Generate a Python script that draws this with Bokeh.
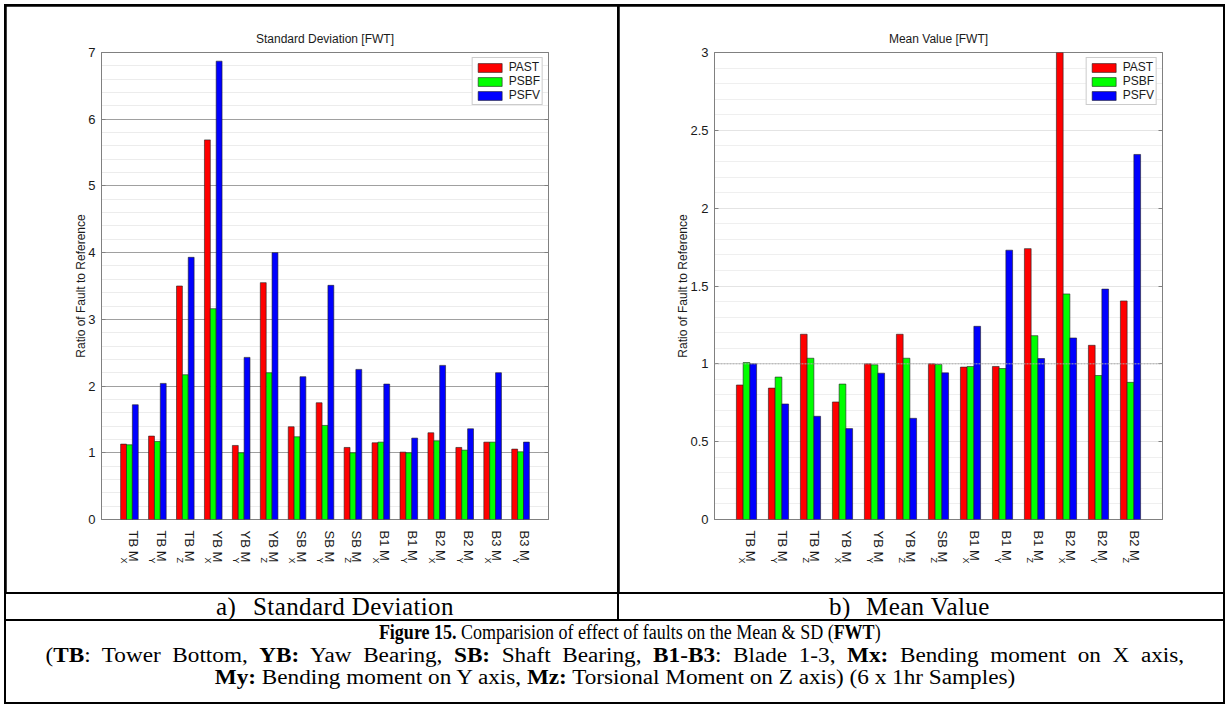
import math

from bokeh.embed import file_html
from bokeh.layouts import column, row
from bokeh.models import (ColumnDataSource, Div, FixedTicker, LinearAxis, NumeralTickFormatter,
                          Range1d, SingleIntervalTicker, Span)
from bokeh.plotting import figure
from bokeh.resources import INLINE
from bokeh.transform import dodge

# ---- data -------------------------------------------------------------------
series_names = ["PAST", "PSBF", "PSFV"]
series_colors = ["#ff0000", "#00ff00", "#0000ff"]

sd_ticks = ["TB Mx", "TB My", "TB Mz", "YB Mx", "YB My", "YB Mz", "SB Mx", "SB My",
            "SB Mz", "B1 Mx", "B1 My", "B2 Mx", "B2 My", "B3 Mx", "B3 My"]
sd_past = [1.13, 1.25, 3.50, 5.69, 1.11, 3.55, 1.39, 1.75, 1.08, 1.15, 1.01, 1.30, 1.08, 1.16, 1.055]
sd_psbf = [1.12, 1.17, 2.17, 3.16, 1.00, 2.20, 1.24, 1.41, 1.00, 1.16, 1.00, 1.18, 1.04, 1.16, 1.015]
sd_psfv = [1.72, 2.04, 3.93, 6.87, 2.43, 4.00, 2.14, 3.51, 2.25, 2.03, 1.22, 2.31, 1.36, 2.20, 1.16]

mean_ticks = ["TB Mx", "TB My", "TB Mz", "YB Mx", "YB My", "YB Mz", "SB Mz", "B1 Mx",
              "B1 My", "B1 Mz", "B2 Mx", "B2 My", "B2 Mz"]
mean_past = [0.864, 0.844, 1.19, 0.755, 1.00, 1.19, 1.00, 0.979, 0.983, 1.74, 3.00, 1.119, 1.404]
mean_psbf = [1.008, 0.915, 1.036, 0.870, 0.994, 1.036, 0.996, 0.983, 0.970, 1.181, 1.449, 0.925, 0.881]
mean_psfv = [1.000, 0.742, 0.663, 0.584, 0.940, 0.650, 0.942, 1.241, 1.730, 1.034, 1.166, 1.480, 2.345]

# ---- styling ----------------------------------------------------------------
SANS = "Liberation Sans"
SERIF = "Liberation Serif"
TEXT = "#1a1a1a"
AXIS = "#808080"


def category_axis(range_name, ticks, labels, size, standoff):
    """Rotated (top-to-bottom) category labels on a bare axis below the frame."""
    return LinearAxis(
        x_range_name=range_name,
        ticker=FixedTicker(ticks=ticks),
        major_label_overrides=dict(zip(ticks, labels)),
        major_label_orientation=-math.pi / 2,
        major_label_standoff=standoff,
        major_label_text_font=SANS,
        major_label_text_font_size=size,
        major_label_text_color=TEXT,
        axis_line_color=None,
        major_tick_line_color=None,
        minor_tick_line_color=None,
    )


def bar_chart(title, ticks, values, y_end, interval, width, height, borders,
              major_color, minor_color, ref_line=False):
    n = len(ticks)
    xs = list(range(1, n + 1))
    src = ColumnDataSource(dict(x=xs, past=values[0], psbf=values[1], psfv=values[2]))
    left, right, top, bottom = borders
    p = figure(width=width, height=height, output_backend="svg", toolbar_location=None,
               x_range=Range1d(0, n + 1), y_range=Range1d(0, y_end),
               x_axis_location=None,
               min_border_left=left, min_border_right=right,
               min_border_top=top, min_border_bottom=bottom, margin=0)
    p.background_fill_color = "white"
    p.border_fill_color = "white"
    p.outline_line_color = AXIS

    p.title.text = title
    p.title.align = "center"
    p.title.text_font = SANS
    p.title.text_font_size = "12px"
    p.title.text_font_style = "normal"
    p.title.text_color = TEXT
    p.title.standoff = 14

    ticker = SingleIntervalTicker(interval=interval, num_minor_ticks=5)
    yax = p.yaxis[0]
    yax.ticker = ticker
    yax.formatter = NumeralTickFormatter(format="0.[0]")
    yax.axis_label = "Ratio of Fault to Reference"
    yax.axis_label_text_font = SANS
    yax.axis_label_text_font_size = "12px"
    yax.axis_label_text_font_style = "normal"
    yax.axis_label_text_color = TEXT
    yax.axis_label_standoff = -3
    yax.major_label_text_font = SANS
    yax.major_label_text_font_size = "13px"
    yax.major_label_text_color = TEXT
    yax.major_label_standoff = 2
    yax.axis_line_color = AXIS
    yax.major_tick_line_color = AXIS
    yax.major_tick_in = 4
    yax.major_tick_out = 0
    yax.minor_tick_line_color = None

    # inward ticks on the right edge of the box
    rax = LinearAxis(ticker=ticker, major_label_text_color=None,
                     axis_line_color=AXIS, major_tick_line_color=AXIS,
                     major_tick_in=4, major_tick_out=0, minor_tick_line_color=None)
    p.add_layout(rax, "right")

    p.xgrid.visible = False
    p.ygrid.grid_line_color = major_color
    p.ygrid.minor_grid_line_color = minor_color

    if ref_line:
        p.add_layout(Span(location=1, dimension="width", line_color="#a9a9a9",
                          line_dash="2 1", line_width=1))

    bw = 0.21
    for key, off, color, name in zip(["past", "psbf", "psfv"], [-bw, 0, bw],
                                     series_colors, series_names):
        p.vbar(x=dodge("x", off, range=p.x_range), top=key, width=bw, source=src,
               fill_color=color, line_color="#202020", line_width=0.6, legend_label=name)

    lg = p.legend[0]
    lg.location = "top_right"
    lg.margin = 5
    lg.padding = 2
    lg.spacing = 0
    lg.glyph_width = 30
    lg.glyph_height = 11
    lg.label_height = 11
    lg.label_standoff = 4
    lg.label_text_font = SANS
    lg.label_text_font_size = "12px"
    lg.label_text_color = TEXT
    lg.border_line_color = "#9a9a9a"
    lg.background_fill_alpha = 1

    # category labels: "TB M" text slightly right of the group centre and the
    # subscript axis letter slightly left of it, continuing below the text
    frame_w = width - left - right
    unit_px = frame_w / (n + 1)
    shift_main = 4 / unit_px
    shift_sub = -5 / unit_px
    p.extra_x_ranges = {
        "main": Range1d(-shift_main, n + 1 - shift_main),
        "sub": Range1d(-shift_sub, n + 1 - shift_sub),
    }
    mains = [t[:-1] for t in ticks]
    subs = [t[-1].upper() for t in ticks]
    p.add_layout(category_axis("main", xs, mains, "13px", 5), "below")
    p.add_layout(category_axis("sub", xs, subs, "9px", -14), "below")
    return p


sd_fig = bar_chart("Standard Deviation [FWT]", sd_ticks, [sd_past, sd_psbf, sd_psfv],
                   7, 1, 611, 586, (95, 69, 46, 72), "#a0a0a0", "#ececec")
mean_fig = bar_chart("Mean Value [FWT]", mean_ticks, [mean_past, mean_psbf, mean_psfv],
                     3, 0.5, 604, 586, (95, 61, 43, 73), "#e4e4e4", "#efefef", ref_line=True)


# ---- caption rows -----------------------------------------------------------
def sub_caption(letter, text, width):
    html = (f'<div style="position:relative;height:25px;font-family:\'{SERIF}\';'
            f'font-size:25px;line-height:25px;letter-spacing:0.4px;color:#000;'
            f'white-space:nowrap;">'
            f'<span style="position:absolute;left:210px;top:0;">{letter})</span>'
            f'<span style="position:absolute;left:247px;top:0;">{text}</span></div>')
    return Div(text=html, width=width, height=25, margin=0,
               styles={"background-color": "white"})


cap_a = sub_caption("a", "Standard Deviation", 611)
cap_b = sub_caption("b", "Mean Value", 604)

# (html, horizontal scale, word spacing px, horizontal nudge px)
caption_lines = [
    ("<b>Figure 15.</b> Comparision of effect of faults on the Mean &amp; SD (<b>FWT</b>)",
     0.9, 0, 15),
    ("(<b>TB</b>: Tower Bottom, <b>YB:</b> Yaw Bearing, <b>SB:</b> Shaft Bearing, "
     "<b>B1-B3</b>: Blade 1-3, <b>Mx:</b> Bending moment on X axis,",
     1.16, 5, 0),
    ("<b>My:</b> Bending moment on Y axis, <b>Mz:</b> Torsional Moment on Z axis) "
     "(6 x 1hr Samples)", 1.16, 0, 0),
]
cap_html = "".join(
    f'<div style="width:1217px;height:22.5px;text-align:center;font-family:\'{SERIF}\';'
    f'font-size:20px;line-height:22.5px;color:#000;white-space:nowrap;">'
    f'<span style="display:inline-block;position:relative;left:{dx}px;'
    f'word-spacing:{ws}px;transform:scaleX({sx});transform-origin:50% 50%;">{line}</span></div>'
    for line, sx, ws, dx in caption_lines)
caption = Div(text=cap_html, width=1217, height=81, margin=0,
              styles={"background-color": "white"})

top_row = row(sd_fig, mean_fig, spacing=2, margin=0, styles={"background-color": "black"})
mid_row = row(cap_a, cap_b, spacing=2, margin=0, styles={"background-color": "black"})
page = column(top_row, mid_row, caption, spacing=2, margin=(4, 0, 0, 4),
              styles={"background-color": "black", "padding": "2px"})

open("out.html", "w").write(file_html(page, INLINE))
